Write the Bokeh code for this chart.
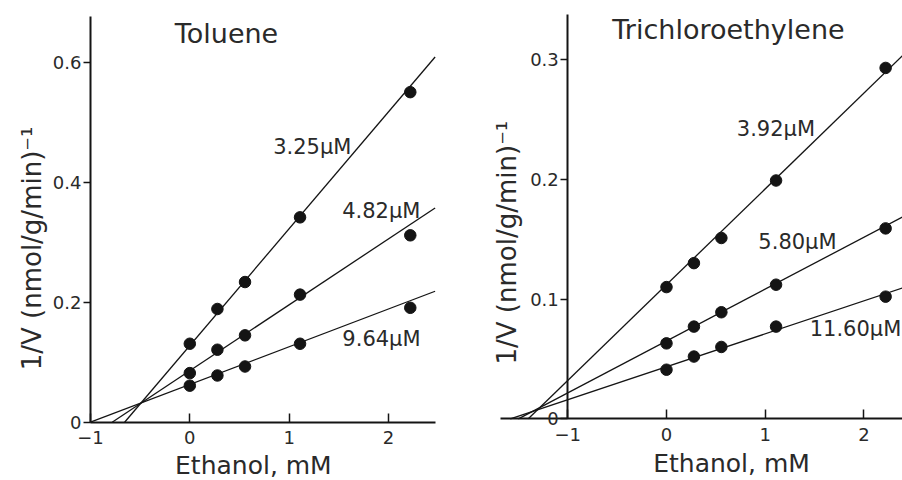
import math
from bokeh.plotting import figure
from bokeh.layouts import row
from bokeh.models import FixedTicker, LinearAxis, Range1d, Label
from bokeh.embed import file_html
from bokeh.resources import INLINE

# ---------------- data ----------------
ethanol = [0.0, 0.278, 0.556, 1.11, 2.22]

tol_labels = ["3.25µM", "4.82µM", "9.64µM"]
tol_325 = [0.131, 0.189, 0.234, 0.342, 0.551]
tol_482 = [0.082, 0.121, 0.145, 0.213, 0.312]
tol_964 = [0.061, 0.078, 0.093, 0.131, 0.191]
tol_intercepts = [0.128, 0.086, 0.063]
tol_slopes = [0.195, 0.110, 0.063]

tce_labels = ["3.92µM", "5.80µM", "11.60µM"]
tce_392 = [0.110, 0.130, 0.151, 0.199, 0.293]
tce_580 = [0.063, 0.077, 0.089, 0.112, 0.159]
tce_1160 = [0.041, 0.052, 0.060, 0.077, 0.102]
tce_intercepts = [0.112, 0.065, 0.0435]
tce_slopes = [0.080, 0.0433, 0.0275]

x_ticks = [-1, 0, 1, 2]
x_tick_labels = ["\u22121", "0", "1", "2"]
tol_y_ticks = [0, 0.2, 0.4, 0.6]
tol_y_tick_labels = ["0", "0.2", "0.4", "0.6"]
tce_y_ticks = [0, 0.1, 0.2, 0.3]
tce_y_tick_labels = ["0", "0.1", "0.2", "0.3"]

FONT = "DejaVu Sans"
INK = "#141414"
TXT = "#2a2a2a"

YLABEL = "1/V  (nmol/g/min)\u207b\u00b9"
XLABEL = "Ethanol, mM"


def style_axis(ax, ticks, labels, is_x):
    ax.ticker = FixedTicker(ticks=ticks)
    ax.major_label_overrides = dict(zip(ticks, labels))
    ax.minor_tick_line_color = None
    ax.axis_line_color = INK
    ax.axis_line_width = 2
    ax.major_tick_line_color = INK
    ax.major_tick_line_width = 1.5
    ax.major_label_text_font = FONT
    ax.major_label_text_font_size = "18px"
    ax.major_label_text_color = TXT
    if is_x:
        ax.major_tick_in = 9
        ax.major_tick_out = 0
        ax.major_label_standoff = 9
    else:
        ax.major_tick_in = 0
        ax.major_tick_out = 7
        ax.major_label_standoff = 2


def base_fig(xr, yr):
    p = figure(width=451, height=480, x_range=Range1d(*xr), y_range=Range1d(*yr),
               output_backend="svg", toolbar_location=None, title=None,
               x_axis_location=None, y_axis_location=None, min_border=0)
    p.outline_line_color = None
    p.grid.visible = False
    p.background_fill_color = "white"
    p.border_fill_color = "white"
    return p


def text(p, x, y, t, size, angle=0.0):
    p.add_layout(Label(x=x, y=y, text=t, angle=angle, text_align="center",
                       text_baseline="middle", text_font=FONT, text_font_size=size,
                       text_color=TXT))


def add_panel(p, x_axis_bounds, y_axis_bounds, y_ticks, y_tick_labels, line_end,
              intercepts, slopes, series, name, name_pos, labels, label_pos,
              xlabel_pos, ylabel_pos):
    xa = LinearAxis(fixed_location=0, bounds=x_axis_bounds)
    style_axis(xa, x_ticks, x_tick_labels, True)
    p.add_layout(xa, "below")
    ya = LinearAxis(fixed_location=-1, bounds=y_axis_bounds)
    style_axis(ya, y_ticks, y_tick_labels, False)
    p.add_layout(ya, "left")

    for b, s in zip(intercepts, slopes):
        xs = [max(-b / s, x_axis_bounds[0]), line_end]
        p.line(xs, [b + s * x for x in xs], line_color=INK, line_width=1.3)
    for ys in series:
        p.scatter(ethanol, ys, size=11.5, fill_color=INK, line_color=INK)

    text(p, name_pos[0], name_pos[1], name, "27px")
    for (lx, ly), t in zip(label_pos, labels):
        text(p, lx, ly, t, "21px")
    text(p, xlabel_pos[0], xlabel_pos[1], XLABEL, "25px")
    text(p, ylabel_pos[0], ylabel_pos[1], YLABEL, "26px", angle=math.pi / 2)


# ---------------- Toluene ----------------
p1 = base_fig((-1.906, 2.635), (-0.0973, 0.704))
add_panel(p1, (-1, 2.47), (0, 0.677), tol_y_ticks, tol_y_tick_labels, 2.47,
          tol_intercepts, tol_slopes, (tol_325, tol_482, tol_964),
          "Toluene", (0.37, 0.649), tol_labels,
          [(1.233, 0.460), (1.928, 0.352), (1.930, 0.139)],
          (0.64, -0.0715), (-1.584, 0.297))

# ---------------- Trichloroethylene ----------------
p2 = base_fig((-2.178, 2.391), (-0.0515, 0.3493))
add_panel(p2, (-1.682, 2.391), (0, 0.338), tce_y_ticks, tce_y_tick_labels, 2.391,
          tce_intercepts, tce_slopes, (tce_392, tce_580, tce_1160),
          "Trichloroethylene", (0.628, 0.325), tce_labels,
          [(1.109, 0.2422), (1.327, 0.1475), (1.915, 0.0746)],
          (0.659, -0.0375), (-1.611, 0.1506))

layout = row(p1, p2)
open("out.html", "w").write(file_html(layout, INLINE))
